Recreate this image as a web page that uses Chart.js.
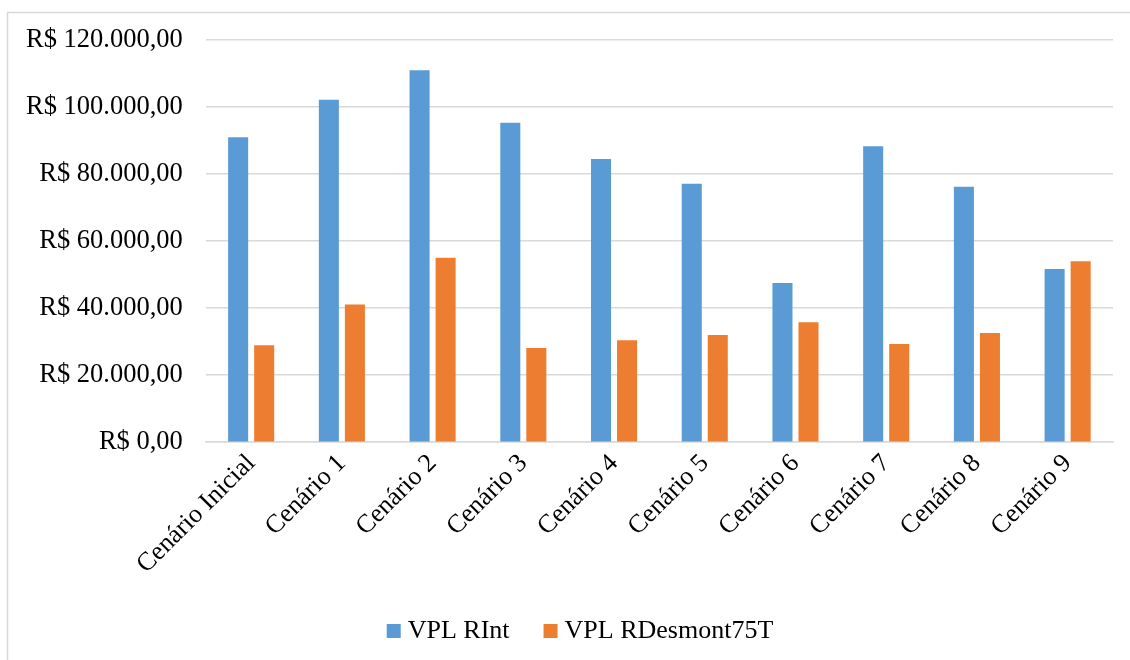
<!DOCTYPE html>
<html>
<head>
<meta charset="utf-8">
<script src="https://cdn.jsdelivr.net/npm/chart.js@4.4.1/dist/chart.umd.min.js"></script>
<style>
  html, body { margin: 0; padding: 0; background: #ffffff; overflow: hidden; }
  #wrap { position: relative; width: 1130px; height: 660px; }
</style>
</head>
<body>
<div id="wrap"><canvas id="c" width="1130" height="660"></canvas></div>
<script>
// Scenario names along the x axis
const categories = ['Cenário Inicial', 'Cenário 1', 'Cenário 2', 'Cenário 3', 'Cenário 4',
                    'Cenário 5', 'Cenário 6', 'Cenário 7', 'Cenário 8', 'Cenário 9'];
// Net present value per scenario (R$)
const vplRInt        = [91000, 102200, 111000, 95300, 84500, 77100, 47500, 88300, 76200, 51700];
const vplRDesmont75T = [28900,  41100,  55000, 28100, 30400, 32000, 35800, 29300, 32600, 54000];
const seriesNames = ['VPL RInt', 'VPL RDesmont75T'];
// Value axis ticks
const yTickValues = [0, 20000, 40000, 60000, 80000, 100000, 120000];

const FONT = 'Liberation Serif, "Times New Roman", serif';
const BLUE = '#5B9BD5';
const ORANGE = '#ED7D31';
const GRID = '#d9d9d9';

// Brazilian currency format: R$ 120.000,00
function brl(v) {
  const whole = Math.round(v).toString().replace(/\B(?=(\d{3})+(?!\d))/g, '.');
  return 'R$ ' + whole + ',00';
}

// Light frame around the chart object
const framePlugin = {
  id: 'frame',
  beforeDraw(chart) {
    const ctx = chart.ctx;
    ctx.save();
    ctx.strokeStyle = GRID;
    ctx.lineWidth = 1.5;
    ctx.strokeRect(7.5, 12.5, 1400, 900);
    ctx.restore();
  }
};

// Bottom legend with square swatches
const legendPlugin = {
  id: 'bottomLegend',
  afterDraw(chart) {
    const ctx = chart.ctx;
    const box = 14, gapText = 7, gapItem = 34;
    const centerX = 580, midY = 631;
    ctx.save();
    ctx.font = '26px ' + FONT;
    const items = chart.data.datasets.map(ds => ({
      text: ds.label, color: ds.backgroundColor, w: ctx.measureText(ds.label).width
    }));
    let total = 0;
    items.forEach((it, i) => { total += box + gapText + it.w + (i ? gapItem : 0); });
    let x = centerX - total / 2;
    ctx.textBaseline = 'middle';
    ctx.textAlign = 'left';
    items.forEach((it, i) => {
      if (i) x += gapItem;
      ctx.fillStyle = it.color;
      ctx.fillRect(x, midY - box / 2, box, box);
      x += box + gapText;
      ctx.fillStyle = '#000000';
      ctx.fillText(it.text, x, midY);
      x += it.w;
    });
    ctx.restore();
  }
};

new Chart(document.getElementById('c'), {
  type: 'bar',
  data: {
    labels: categories,
    datasets: [
      { label: seriesNames[0], data: vplRInt, backgroundColor: BLUE,
        categoryPercentage: 0.574, barPercentage: 0.77 },
      { label: seriesNames[1], data: vplRDesmont75T, backgroundColor: ORANGE,
        categoryPercentage: 0.574, barPercentage: 0.77 }
    ]
  },
  options: {
    responsive: false,
    animation: false,
    devicePixelRatio: 1,
    layout: { padding: { top: 40, left: 3, right: 17, bottom: 74 } },
    plugins: {
      legend: { display: false },
      tooltip: { enabled: false }
    },
    scales: {
      x: {
        grid: { display: false, drawTicks: false },
        border: { display: true, color: GRID, width: 1.5 },
        // rotated labels may spill left past the plot edge
        afterFit(axis) { axis.paddingLeft = 0; axis.paddingRight = 0; },
        ticks: {
          autoSkip: false, minRotation: 45, maxRotation: 45, padding: 6,
          color: '#000000', font: { family: FONT, size: 26 }
        }
      },
      y: {
        min: 0, max: 120000,
        afterBuildTicks(axis) { axis.ticks = yTickValues.map(v => ({ value: v })); },
        grid: { color: GRID, lineWidth: 1.5, drawTicks: false },
        border: { display: false },
        ticks: {
          padding: 23, color: '#000000', font: { family: FONT, size: 26.5 },
          callback: v => brl(v)
        }
      }
    }
  },
  plugins: [framePlugin, legendPlugin]
});
</script>
</body>
</html>
